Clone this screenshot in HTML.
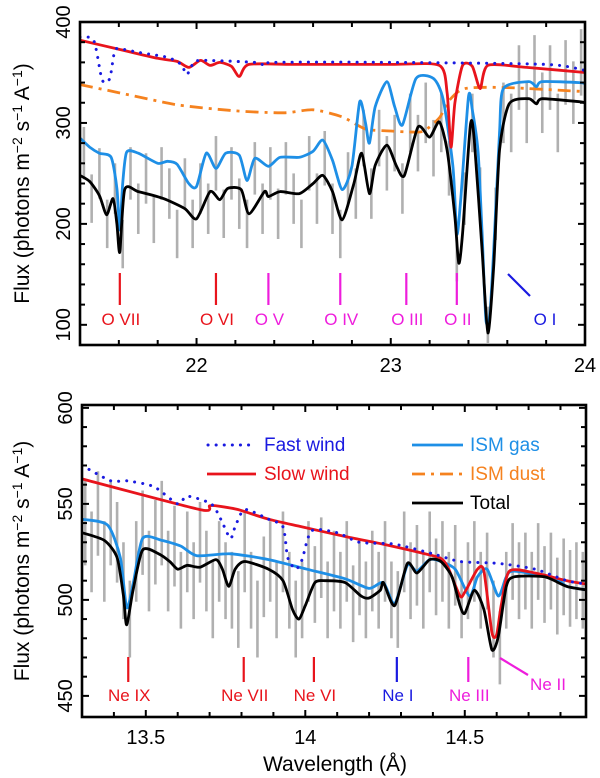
<!DOCTYPE html>
<html><head><meta charset="utf-8">
<style>
html,body{margin:0;padding:0;background:#fff;}
svg{display:block;font-family:"Liberation Sans",Arial,sans-serif;}
</style></head>
<body>
<svg id="chart" width="600" height="778" viewBox="0 0 600 778" xmlns="http://www.w3.org/2000/svg"></svg>
<script>
// ===== TOP PANEL DATA (O K-edge region) =====
const topFastW = [21.40,21.47,21.51,21.53,21.555,21.58,21.62,21.7,21.85,21.92,21.95,21.98,22.02,22.3,22.35,22.4,23.0,23.8,24.0];
const topFastV = [385,382,345,340,345,372,373,370,365,358,348,358,362,360,357,360,360,358,352];
const topSlowW = [21.40,21.6,21.8,21.9,21.96,22.02,22.07,22.12,22.18,22.22,22.27,22.5,23.0,23.25,23.29,23.31,23.33,23.37,23.42,23.46,23.5,23.7,24.0];
const topSlowV = [382,373,364,361,355,362,357,360,356,346,358,358,358,357,330,276,320,357,356,334,357,355,350];
const topDustW = [21.40,21.6,21.9,22.2,22.45,22.6,22.75,22.87,23.0,23.1,23.17,23.25,23.3,23.38,23.6,24.0];
const topDustV = [338,330,318,312,310,313,306,294,292,291,292,305,322,334,335,331];
const topGasW = [21.40,21.45,21.5,21.56,21.59,21.605,21.62,21.64,21.7,21.8,21.85,21.9,21.96,22.0,22.05,22.1,22.15,22.22,22.26,22.3,22.37,22.43,22.53,22.6,22.65,22.70,22.75,22.80,22.84,22.87,22.89,22.92,22.98,23.02,23.06,23.13,23.22,23.27,23.32,23.34,23.36,23.40,23.42,23.45,23.47,23.49,23.51,23.53,23.56,23.58,23.71,23.75,23.78,23.97,24.0];
const topGasV = [285,276,270,266,235,194,240,271,270,260,262,259,240,237,270,255,270,268,243,265,257,266,266,272,283,263,234,257,321,300,280,316,341,316,298,344,344,323,257,190,224,326,313,270,191,105,110,174,290,334,341,336,341,340,339];
const topTotW = [21.40,21.45,21.5,21.537,21.57,21.59,21.605,21.63,21.7,21.83,21.94,22.0,22.07,22.12,22.16,22.23,22.27,22.35,22.37,22.43,22.53,22.6,22.65,22.70,22.75,22.81,22.85,22.89,22.92,22.98,23.03,23.07,23.14,23.2,23.25,23.29,23.33,23.35,23.37,23.41,23.43,23.47,23.50,23.53,23.56,23.61,23.71,23.75,23.78,23.97,24.0];
const topTotV = [248,242,228,209,225,200,172,234,232,225,215,205,232,224,235,234,210,232,227,232,230,240,248,232,204,240,270,230,258,278,257,248,296,286,301,273,207,161,191,298,283,174,92,158,273,319,324,319,324,321,320];
const topDataW = [21.42,21.46,21.50,21.54,21.58,21.62,21.66,21.70,21.74,21.78,21.82,21.86,21.90,21.94,21.98,22.02,22.06,22.10,22.14,22.18,22.22,22.26,22.30,22.34,22.38,22.42,22.46,22.50,22.54,22.58,22.62,22.66,22.70,22.74,22.78,22.82,22.86,22.90,22.94,22.98,23.02,23.06,23.10,23.14,23.18,23.22,23.26,23.30,23.34,23.38,23.42,23.46,23.50,23.54,23.58,23.62,23.66,23.70,23.74,23.78,23.82,23.86,23.90,23.94,23.98];
const topDataV = [270,225,250,200,235,180,250,215,245,205,250,230,190,240,200,235,215,260,210,250,220,200,255,215,250,210,255,225,200,260,225,265,215,190,245,230,285,230,285,260,280,235,300,280,310,275,300,255,165,225,300,230,100,210,310,300,345,310,355,320,345,300,350,330,360];
const topDataE = [26,24,25,24,25,24,26,25,25,24,26,25,24,25,24,25,25,27,24,26,25,24,26,25,26,25,26,25,24,27,25,27,25,24,26,25,28,25,28,27,28,25,29,28,30,28,29,27,22,26,29,26,18,26,30,29,32,30,32,30,32,29,32,31,33];
const topLineW = [21.605,22.10,22.37,22.74,23.08,23.34];
const topLineLbl = ["O VII","O VI","O V","O IV","O III","O II"];
const topLineCol = ["#e8141c","#e8141c","#ee1ddc","#ee1ddc","#ee1ddc","#ee1ddc"];
const topXTicks = [22,23,24];
const topYTicks = [100,200,300,400];

// ===== BOTTOM PANEL DATA (Ne K-edge region) =====
const botFastW = [13.30,13.39,13.44,13.525,13.6,13.63,13.705,13.735,13.765,13.78,13.81,13.885,13.93,13.945,13.97,13.99,14.02,14.1,14.17,14.28,14.40,14.485,14.605,14.72,14.82,14.89];
const botFastV = [570,562,562,559,550,554,550,542,532,538,547,542,538,522,516,521,536,535,530,529,524,520,519,516,510,508];
const botSlowW = [13.30,13.67,13.70,13.72,13.79,13.885,13.99,14.125,14.245,14.40,14.43,14.45,14.485,14.50,14.54,14.56,14.585,14.60,14.615,14.64,14.72,14.82,14.89];
const botSlowV = [563,547,549,549,547,542,538,533,529,523,521,516,502,504,516,515,483,482,498,515,514,510,508];
const botGasW = [13.30,13.38,13.42,13.44,13.46,13.49,13.55,13.61,13.66,13.765,13.885,14.005,14.125,14.2,14.245,14.28,14.32,14.35,14.39,14.425,14.47,14.515,14.54,14.57,14.605,14.63,14.655,14.785,14.82,14.89];
const botGasV = [542,539,522,496,508,532,531,528,523,524,521,516,511,506,509,498,518,515,521,520,516,502,512,516,502,512,515,511,507,505];
const botTotW = [13.30,13.37,13.41,13.43,13.44,13.46,13.49,13.54,13.575,13.6,13.63,13.67,13.72,13.74,13.76,13.78,13.81,13.885,13.93,13.96,13.98,14.0,14.03,14.065,14.125,14.175,14.2,14.235,14.245,14.28,14.32,14.35,14.39,14.425,14.46,14.485,14.50,14.53,14.56,14.585,14.605,14.63,14.655,14.75,14.82,14.89];
const botTotV = [535,531,522,502,487,505,526,524,520,516,518,517,521,516,507,516,520,516,510,495,490,497,509,510,509,502,501,505,509,497,519,514,521,520,512,497,493,505,495,474,481,507,512,512,507,505];
const botDataW = [13.31,13.33,13.35,13.37,13.39,13.41,13.43,13.45,13.47,13.49,13.51,13.53,13.55,13.57,13.59,13.61,13.63,13.65,13.67,13.69,13.71,13.73,13.75,13.77,13.79,13.81,13.83,13.85,13.87,13.89,13.91,13.93,13.95,13.97,13.99,14.01,14.03,14.05,14.07,14.09,14.11,14.13,14.15,14.17,14.19,14.21,14.23,14.25,14.27,14.29,14.31,14.33,14.35,14.37,14.39,14.41,14.43,14.45,14.47,14.49,14.51,14.53,14.55,14.57,14.59,14.61,14.63,14.65,14.67,14.69,14.71,14.73,14.75,14.77,14.79,14.81,14.83,14.85,14.87];
const botDataV = [540,525,545,520,540,530,510,490,520,535,515,530,540,515,528,505,525,510,530,515,500,520,510,505,495,525,505,490,512,520,500,525,505,490,500,520,508,522,500,515,505,520,498,512,500,515,505,520,500,495,525,510,518,505,525,512,520,505,518,500,510,520,505,515,490,475,505,520,510,515,505,520,508,515,502,512,506,510,505];
const botDataE = [22,21,22,21,22,21,20,20,21,22,21,22,22,21,21,20,21,20,21,21,20,21,20,20,20,21,20,20,21,21,20,21,20,20,20,21,20,21,20,21,20,21,20,20,20,21,20,21,20,20,21,20,21,20,21,20,21,20,21,20,20,21,20,20,20,19,20,20,20,20,20,20,20,20,20,20,20,20,20];
const botLineW = [13.445,13.807,14.027,14.287,14.511];
const botLineLbl = ["Ne IX","Ne VII","Ne VI","Ne I","Ne III"];
const botLineCol = ["#e8141c","#e8141c","#e8141c","#1a1ae0","#ee1ddc"];
const botXTicks = [13.5,14,14.5];
const botYTicks = [450,500,550,600];

// ===== rendering =====
const NS = "http://www.w3.org/2000/svg";
const svgEl = document.getElementById('chart');
function mk(tag, attrs, parent){ const e=document.createElementNS(NS,tag); for(const k in attrs) e.setAttribute(k,attrs[k]); (parent||svgEl).appendChild(e); return e; }

function makePanel(P){
  const xs = w => P.x0 + (w-P.w0)/(P.w1-P.w0)*(P.x1-P.x0);
  const ys = v => P.y1 - (v-P.v0)/(P.v1-P.v0)*(P.y1-P.y0);
  const g = mk('g',{});
  
  
  const clipId = P.name+'-clip';
  const cp = mk('clipPath',{id:clipId}, g);
  mk('rect',{x:P.x0,y:P.y0,width:P.x1-P.x0,height:P.y1-P.y0}, cp);
  const plot = mk('g',{'clip-path':'url(#'+clipId+')'}, g);
  
  
  const dg = mk('g',{}, plot);
  
  
  for(let i=0;i<P.dW.length;i++){
    const x = xs(P.dW[i]);
    const b = mk('line',{x1:x,x2:x,y1:ys(P.dV[i]-P.dE[i]),y2:ys(P.dV[i]+P.dE[i]),stroke:'#b0b0b0','stroke-width':2.6}, dg);
    
    
  }
  function curve(W,V,style,name){
    const pts = W.map((w,i)=>[xs(w),ys(V[i])]);
    let d = 'M'+pts[0][0].toFixed(1)+','+pts[0][1].toFixed(1);
    for(let i=0;i<pts.length-1;i++){
      const p0=pts[Math.max(0,i-1)],p1=pts[i],p2=pts[i+1],p3=pts[Math.min(pts.length-1,i+2)];
      const t=0.12;
      const c1=[p1[0]+(p2[0]-p0[0])*t,p1[1]+(p2[1]-p0[1])*t];
      const c2=[p2[0]-(p3[0]-p1[0])*t,p2[1]-(p3[1]-p1[1])*t];
      d+=' C'+c1[0].toFixed(1)+','+c1[1].toFixed(1)+' '+c2[0].toFixed(1)+','+c2[1].toFixed(1)+' '+p2[0].toFixed(1)+','+p2[1].toFixed(1);
    }
    const a = Object.assign({d:d,fill:'none','stroke-linejoin':'round'},style);
    const p = mk('path',a,plot);
    
    
  }
  if(P.dustW) curve(P.dustW,P.dustV,{stroke:'#f5821f','stroke-width':2.8,'stroke-dasharray':'13,6,3,6'},'ism-dust-curve');
  curve(P.gasW,P.gasV,{stroke:'#1e8fe6','stroke-width':2.8},'ism-gas-curve');
  curve(P.slowW,P.slowV,{stroke:'#e8141c','stroke-width':2.8},'slow-wind-curve');
  curve(P.fastW,P.fastV,{stroke:'#1a1ae0','stroke-width':3,'stroke-dasharray':'0.1,8','stroke-linecap':'round'},'fast-wind-curve');
  curve(P.totW,P.totV,{stroke:'#000','stroke-width':2.8},'total-model-curve');
  for(let i=0;i<P.lW.length;i++){
    const x = xs(P.lW[i]);
    const l = mk('line',{x1:x,x2:x,y1:P.mY0,y2:P.mY1,stroke:P.lC[i],'stroke-width':2.2}, g);
    
    
    const t = mk('text',{x:x+1,y:P.lblY,'text-anchor':'middle','font-size':17,fill:P.lC[i]}, g);
    t.textContent = P.lL[i];
    
    
  }
  const fr = mk('rect',{x:P.x0,y:P.y0,width:P.x1-P.x0,height:P.y1-P.y0,fill:'none',stroke:'#000','stroke-width':2.6}, g);
  
  
  const tg = mk('g',{stroke:'#000','stroke-width':2}, g);
  
  
  for(let w=Math.ceil(P.w0/P.xm-1e-6)*P.xm; w<=P.w1+1e-9; w+=P.xm){
    const x=xs(w); if(x<P.x0+2||x>P.x1-2) continue;
    const maj = P.xT.some(t=>Math.abs(t-w)<1e-6); const L = maj?7:5;
    mk('line',{x1:x,x2:x,y1:P.y1,y2:P.y1-L},tg); mk('line',{x1:x,x2:x,y1:P.y0,y2:P.y0+L},tg);
  }
  for(let v=Math.ceil(P.v0/P.ym-1e-6)*P.ym; v<=P.v1+1e-9; v+=P.ym){
    const y=ys(v); if(y<P.y0+2||y>P.y1-2) continue;
    const maj = P.yT.some(t=>Math.abs(t-v)<1e-6); const L = maj?7:5;
    mk('line',{x1:P.x0,x2:P.x0+L,y1:y,y2:y},tg); mk('line',{x1:P.x1,x2:P.x1-L,y1:y,y2:y},tg);
  }
  P.xT.forEach(w=>{
    const t = mk('text',{x:xs(w),y:P.y1+27,'text-anchor':'middle','font-size':20,fill:'#000'}, g);
    t.textContent = String(w);
    
    
  });
  P.yT.forEach(v=>{
    const y=ys(v);
    const t = mk('text',{x:0,y:0,transform:'translate('+(P.x0-10)+','+y+') rotate(-90)','text-anchor':'middle','font-size':20,fill:'#000'}, g);
    t.textContent = String(v);
    
    
  });
  const yt = mk('text',{x:0,y:0,transform:'translate(29,'+((P.y0+P.y1)/2)+') rotate(-90)','text-anchor':'middle','font-size':21,fill:'#000'}, g);
  yt.innerHTML = 'Flux (photons m<tspan dy="-7" font-size="14">−2</tspan><tspan dy="7"> s</tspan><tspan dy="-7" font-size="14">−1</tspan><tspan dy="7"> A</tspan><tspan dy="-7" font-size="14">−1</tspan><tspan dy="7">)</tspan>';
  
  
  return {xs,ys,g};
}

const topPanel = makePanel({name:'top-panel',x0:80,x1:585,y0:22,y1:345,w0:21.4,w1:24,v0:80,v1:400,xm:0.2,ym:20,
  xT:topXTicks,yT:topYTicks,dW:topDataW,dV:topDataV,dE:topDataE,
  fastW:topFastW,fastV:topFastV,slowW:topSlowW,slowV:topSlowV,dustW:topDustW,dustV:topDustV,
  gasW:topGasW,gasV:topGasV,totW:topTotW,totV:topTotV,
  lW:topLineW,lL:topLineLbl,lC:topLineCol,mY0:273,mY1:305,lblY:325});
const oi = mk('line',{x1:508,y1:274,x2:530,y2:296,stroke:'#1a1ae0','stroke-width':2.2}, topPanel.g);


const oit = mk('text',{x:545,y:325,'text-anchor':'middle','font-size':17,fill:'#1a1ae0'}, topPanel.g);
oit.textContent = 'O I';



const botPanel = makePanel({name:'bottom-panel',x0:82,x1:586,y0:405,y1:717,w0:13.3,w1:14.88,v0:439,v1:601.5,xm:0.1,ym:10,
  xT:botXTicks,yT:botYTicks,dW:botDataW,dV:botDataV,dE:botDataE,
  fastW:botFastW,fastV:botFastV,slowW:botSlowW,slowV:botSlowV,
  gasW:botGasW,gasV:botGasV,totW:botTotW,totV:botTotV,
  lW:botLineW,lL:botLineLbl,lC:botLineCol,mY0:657,mY1:682,lblY:701});
const ne2 = mk('line',{x1:500,y1:658,x2:528,y2:675,stroke:'#ee1ddc','stroke-width':2.2}, botPanel.g);


const ne2t = mk('text',{x:548,y:690,'text-anchor':'middle','font-size':17,fill:'#ee1ddc'}, botPanel.g);
ne2t.textContent = 'Ne II';



const xt = mk('text',{x:335,y:771,'text-anchor':'middle','font-size':21,fill:'#000'});
xt.textContent = 'Wavelength (Å)';



const lg = mk('g',{});


function legendEntry(x1,x2,tx,y,style,label,col){
  const e = mk('g',{},lg);
  
  
  mk('line',Object.assign({x1:x1,x2:x2,y1:y,y2:y},style),e);
  const t = mk('text',{x:tx,y:y+6,'font-size':19,fill:col},e);
  t.textContent = label;
}
legendEntry(208,252,264,445,{stroke:'#1a1ae0','stroke-width':3,'stroke-dasharray':'0.1,8','stroke-linecap':'round'},'Fast wind','#1a1ae0');
legendEntry(207,256,264,474,{stroke:'#e8141c','stroke-width':2.8},'Slow wind','#e8141c');
legendEntry(412,463,470,445,{stroke:'#1e8fe6','stroke-width':2.8},'ISM gas','#1e8fe6');
legendEntry(412,463,470,474,{stroke:'#f5821f','stroke-width':2.8,'stroke-dasharray':'13,6,3,6'},'ISM dust','#f5821f');
legendEntry(412,463,470,503,{stroke:'#000','stroke-width':2.8},'Total','#000');
</script>
</body></html>
